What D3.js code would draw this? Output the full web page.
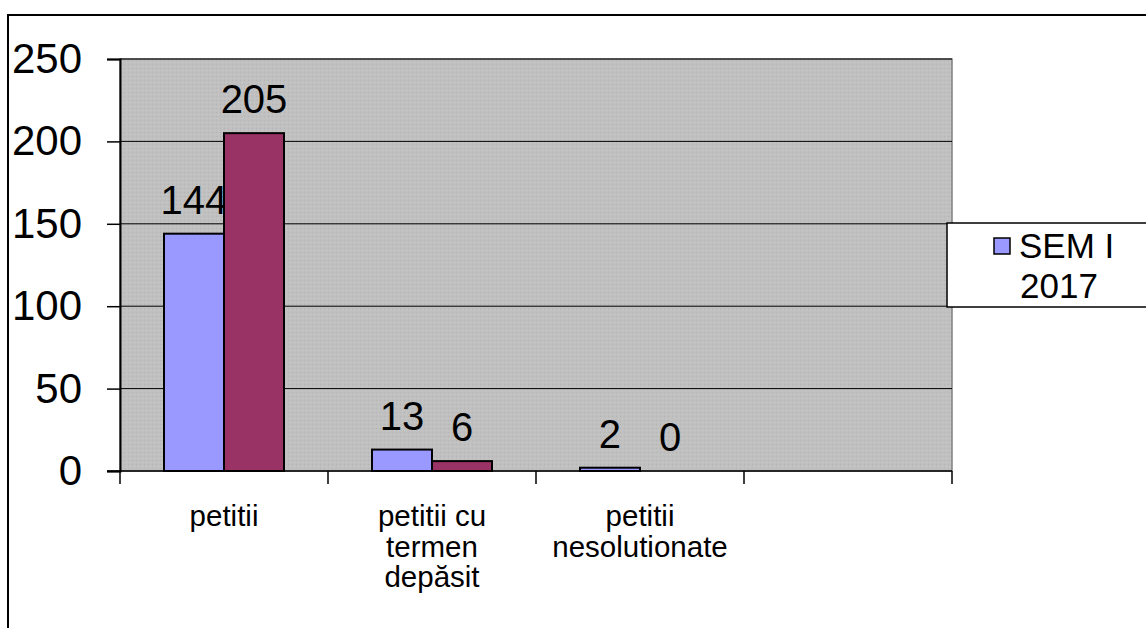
<!DOCTYPE html>
<html>
<head>
    <meta charset="utf-8">
    <script src="https://d3js.org/d3.v7.min.js"></script>
    <style>
        body { margin: 0; background: #fff; }
        text { font-family: "Liberation Sans", Arial, sans-serif; fill: #000; }
    </style>
</head>
<body>
    <svg id="chart" width="1146" height="628"></svg>
    <script>
        var categories = [["petitii"], ["petitii cu", "termen", "depăsit"], ["petitii", "nesolutionate"], [""]];
        var seriesNames = ["SEM I 2017", "SEM I 2018"];
        var sem2017 = [144, 13, 2, null];
        var sem2018 = [205, 6, 0, null];
        var yTicks = [0, 50, 100, 150, 200, 250];
        var colors = ["#9999FF", "#993366"];

        var svg = d3.select("#chart");

        // outer frame
        svg.append("rect")
            .attr("x", 8).attr("y", 15)
            .attr("width", 1150).attr("height", 630)
            .attr("fill", "none").attr("stroke", "#000").attr("stroke-width", 2);

        var plotLeft = 120, plotTop = 59, plotRight = 952, plotBottom = 471;

        var x = d3.scaleBand().domain(d3.range(categories.length)).range([plotLeft, plotRight]);
        var y = d3.scaleLinear().domain([0, 250]).range([plotBottom, plotTop]);

        // textured grey plot area
        var defs = svg.append("defs");
        var pat = defs.append("pattern").attr("id", "grain")
            .attr("width", 4).attr("height", 4).attr("patternUnits", "userSpaceOnUse");
        pat.append("rect").attr("width", 4).attr("height", 4).attr("fill", "#C0C0C0");
        pat.append("rect").attr("x", 0).attr("y", 0).attr("width", 1).attr("height", 1).attr("fill", "#b4b4b4");
        pat.append("rect").attr("x", 2).attr("y", 2).attr("width", 1).attr("height", 1).attr("fill", "#cacaca");

        svg.append("rect")
            .attr("x", plotLeft).attr("y", plotTop)
            .attr("width", plotRight - plotLeft).attr("height", plotBottom - plotTop)
            .attr("fill", "url(#grain)")
            .attr("stroke", "#808080").attr("stroke-width", 1.5);

        // gridlines
        svg.selectAll(".grid").data(yTicks.filter(function (d) { return d > 0; }))
            .enter().append("line")
            .attr("x1", plotLeft).attr("x2", plotRight)
            .attr("y1", function (d) { return y(d); })
            .attr("y2", function (d) { return y(d); })
            .attr("stroke", "#000").attr("stroke-width", 1);

        // y axis
        var yAxis = svg.append("g").attr("transform", "translate(" + plotLeft + ",0)")
            .call(d3.axisLeft(y).tickValues(yTicks).tickSize(13).tickPadding(25));
        yAxis.select(".domain").attr("stroke", "#000").attr("stroke-width", 2);
        yAxis.selectAll(".tick line").attr("stroke", "#000").attr("stroke-width", 1.5);
        yAxis.selectAll("text").attr("font-size", 42).attr("fill", "#000")
            .attr("font-family", "Liberation Sans, Arial, sans-serif");

        // x axis
        var xAxis = svg.append("g").attr("transform", "translate(0," + plotBottom + ")");
        xAxis.append("line").attr("x1", plotLeft - 13).attr("x2", plotRight)
            .attr("stroke", "#000").attr("stroke-width", 1.5);
        xAxis.selectAll(".xt").data(d3.range(categories.length + 1)).enter().append("line")
            .attr("x1", function (i) { return plotLeft + i * x.bandwidth(); })
            .attr("x2", function (i) { return plotLeft + i * x.bandwidth(); })
            .attr("y1", 0).attr("y2", 13)
            .attr("stroke", "#000").attr("stroke-width", 1.5);

        var xLabels = svg.selectAll(".xl").data(categories).enter().append("text")
            .attr("text-anchor", "middle").attr("font-size", 29.5);
        xLabels.each(function (lines, i) {
            var t = d3.select(this);
            lines.forEach(function (ln, j) {
                t.append("tspan")
                    .attr("x", x(i) + x.bandwidth() / 2)
                    .attr("y", 526 + j * 30.5)
                    .text(ln);
            });
        });

        // bars
        var inner = d3.scaleBand().domain([0, 1]).range([0, x.bandwidth()]).paddingInner(0).paddingOuter(0.7333);
        [sem2017, sem2018].forEach(function (vals, s) {
            var g = svg.append("g");
            var valid = vals.map(function (v, i) { return { v: v, i: i }; }).filter(function (d) { return d.v !== null; });
            g.selectAll("rect").data(valid).enter().append("rect")
                .attr("x", function (d) { return x(d.i) + inner(s); })
                .attr("y", function (d) { return y(d.v); })
                .attr("width", inner.bandwidth())
                .attr("height", function (d) { return y(0) - y(d.v); })
                .attr("fill", colors[s])
                .attr("stroke", "#000").attr("stroke-width", 2);
            g.selectAll("text").data(valid).enter().append("text")
                .attr("x", function (d) { return x(d.i) + inner(s) + inner.bandwidth() / 2; })
                .attr("y", function (d) { return y(d.v) - 20; })
                .attr("text-anchor", "middle").attr("font-size", 40)
                .text(function (d) { return d.v; });
        });

        // legend (only first entry visible)
        var lg = svg.append("g");
        lg.append("rect").attr("x", 947).attr("y", 223).attr("width", 220).attr("height", 84)
            .attr("fill", "#fff").attr("stroke", "#000").attr("stroke-width", 1.5);
        lg.append("rect").attr("x", 994).attr("y", 238).attr("width", 16).attr("height", 16)
            .attr("fill", colors[0]).attr("stroke", "#000").attr("stroke-width", 1.5);
        var words = seriesNames[0].split(" ");
        lg.append("text").attr("x", 1019).attr("y", 258).attr("font-size", 35)
            .text(words.slice(0, 2).join(" "));
        lg.append("text").attr("x", 1059).attr("y", 298).attr("font-size", 35).attr("text-anchor", "middle")
            .text(words[2]);
    </script>
</body>
</html>
